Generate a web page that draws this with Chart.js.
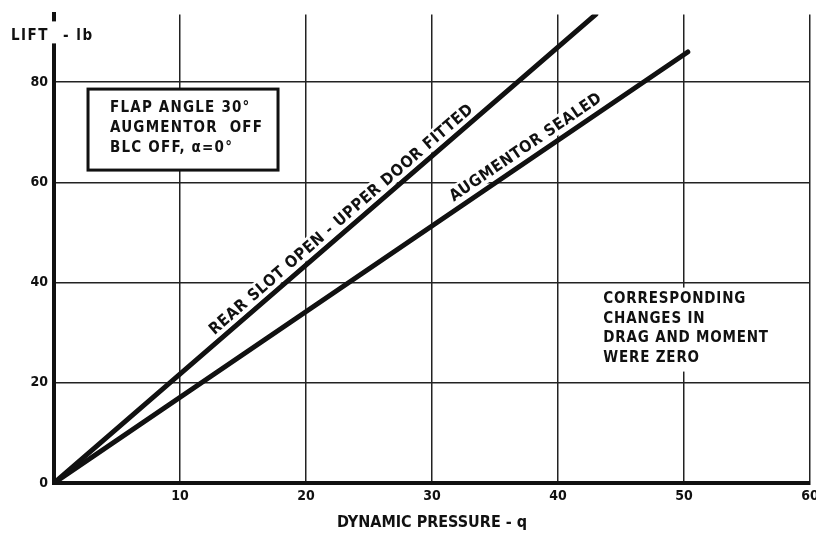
<!DOCTYPE html>
<html>
<head>
<meta charset="utf-8">
<script src="https://cdn.jsdelivr.net/npm/chart.js@4"></script>
<style>
  html, body { margin: 0; padding: 0; background: #fff; }
  #wrap { width: 816px; height: 534px; }
</style>
</head>
<body>
<div id="wrap"><canvas id="liftChart" width="816" height="534"></canvas></div>
<script>
// values (q, lift in lb)
const rearSlotQ = [0, 43];
const rearSlotLift = [0, 93.5];
const sealedQ = [0, 50.3];
const sealedLift = [0, 86];

const xTicks = [0, 10, 20, 30, 40, 50, 60];
const yTicks = [0, 20, 40, 60, 80];
const yTop = 93.5;

const boxLines = ['FLAP ANGLE 30°', 'AUGMENTOR  OFF', 'BLC OFF, α=0°'];
const noteLines = ['CORRESPONDING', 'CHANGES IN', 'DRAG AND MOMENT', 'WERE ZERO'];

const FONT = '"DejaVu Sans Condensed", "Liberation Sans Narrow", "DejaVu Sans", sans-serif';

function toPoints(xs, ys) {
    return xs.map((x, i) => ({ x: x, y: ys[i] }));
}

// text written along a data line, with a white patch behind it
function textAlongLine(chart, dsIndex, text, qAt, offset) {
    const ctx = chart.ctx;
    const pts = chart.getDatasetMeta(dsIndex).data;
    const p0 = pts[0], p1 = pts[pts.length - 1];
    const ang = Math.atan2(p1.y - p0.y, p1.x - p0.x);
    const px = chart.scales.x.getPixelForValue(qAt);
    const t = (px - p0.x) / (p1.x - p0.x);
    const py = p0.y + t * (p1.y - p0.y);
    const cx = px + Math.sin(ang) * offset;
    const cy = py - Math.cos(ang) * offset;

    ctx.save();
    ctx.translate(cx, cy);
    ctx.rotate(ang);
    ctx.font = 'bold 16px ' + FONT;
    ctx.letterSpacing = '0.6px';
    const w = ctx.measureText(text).width;
    ctx.fillStyle = '#fff';
    ctx.fillRect(-w / 2 - 4, -9, w + 8, 18);
    ctx.fillStyle = '#111';
    ctx.textAlign = 'center';
    ctx.textBaseline = 'middle';
    ctx.fillText(text, 0, 1);
    ctx.restore();
}

const notesPlugin = {
    id: 'notes',
    afterDatasetsDraw(chart) {
        const ctx = chart.ctx;
        const xs = chart.scales.x, ys = chart.scales.y;

        // y axis caption, breaking the axis line
        ctx.save();
        ctx.fillStyle = '#fff';
        ctx.fillRect(xs.left - 6, ys.top + 7, 12, 22);
        ctx.fillStyle = '#111';
        ctx.font = 'bold 15px ' + FONT;
        ctx.letterSpacing = '1.5px';
        ctx.textBaseline = 'middle';
        ctx.textAlign = 'right';
        ctx.fillText('LIFT', xs.left - 5, ys.top + 22);
        ctx.textAlign = 'left';
        ctx.fillText('- lb', xs.left + 9, ys.top + 22);
        ctx.restore();

        // boxed conditions
        const bx = xs.getPixelForValue(2.7), by = ys.getPixelForValue(78.6);
        ctx.save();
        ctx.fillStyle = '#fff';
        ctx.fillRect(bx, by, 190, 81);
        ctx.strokeStyle = '#111';
        ctx.lineWidth = 3;
        ctx.strokeRect(bx, by, 190, 81);
        ctx.fillStyle = '#111';
        ctx.font = 'bold 15px ' + FONT;
        ctx.letterSpacing = '1.2px';
        ctx.textBaseline = 'middle';
        boxLines.forEach((s, i) => ctx.fillText(s, bx + 22, by + 19 + i * 20));
        ctx.restore();

        // note at right
        const nx = xs.getPixelForValue(43.6), ny = ys.getPixelForValue(36.6);
        ctx.save();
        ctx.fillStyle = '#fff';
        ctx.fillRect(nx - 5, ny - 12, 175, 84);
        ctx.fillStyle = '#111';
        ctx.font = 'bold 15px ' + FONT;
        ctx.letterSpacing = '0.8px';
        ctx.textBaseline = 'middle';
        noteLines.forEach((s, i) => ctx.fillText(s, nx, ny + i * 19.5));
        ctx.restore();

        textAlongLine(chart, 0, 'REAR SLOT OPEN - UPPER DOOR FITTED', 23.4, 12);
        textAlongLine(chart, 1, 'AUGMENTOR SEALED', 38, 13);
    }
};

const canvas = document.getElementById('liftChart');
new Chart(canvas.getContext('2d'), {
    type: 'scatter',
    data: {
        datasets: [
            {
                label: 'Rear slot open - upper door fitted',
                data: toPoints(rearSlotQ, rearSlotLift),
                showLine: true,
                borderColor: '#111',
                borderWidth: 5,
                borderCapStyle: 'round',
                pointRadius: 0
            },
            {
                label: 'Augmentor sealed',
                data: toPoints(sealedQ, sealedLift),
                showLine: true,
                borderColor: '#111',
                borderWidth: 5,
                borderCapStyle: 'round',
                pointRadius: 0
            }
        ]
    },
    options: {
        responsive: false,
        animation: false,
        layout: { padding: { left: 0, right: 6, top: 13, bottom: 0 } },
        plugins: {
            legend: { display: false },
            tooltip: { enabled: false }
        },
        scales: {
            x: {
                type: 'linear',
                min: xTicks[0],
                max: xTicks[xTicks.length - 1],
                afterBuildTicks: (s) => { s.ticks = xTicks.map(v => ({ value: v })); },
                afterFit: (s) => { s.height = 51; s.paddingLeft = 0; s.paddingRight = 0; },
                grid: { color: '#222', lineWidth: 1.5, drawTicks: false },
                border: { color: '#111', width: 4 },
                ticks: {
                    padding: 5,
                    color: '#111',
                    font: { family: FONT, size: 14, weight: 'bold' },
                    callback: (v) => (v === 0 ? '' : String(v))
                },
                title: {
                    display: true,
                    text: 'DYNAMIC PRESSURE - q',
                    color: '#111',
                    padding: { top: 0, bottom: 2 },
                    font: { family: FONT, size: 16, weight: 'bold' }
                }
            },
            y: {
                type: 'linear',
                min: 0,
                max: yTop,
                afterBuildTicks: (s) => { s.ticks = yTicks.map(v => ({ value: v })); },
                afterFit: (s) => { s.width = 54; },
                grid: { color: '#222', lineWidth: 1.5, drawTicks: false },
                border: { color: '#111', width: 4 },
                ticks: {
                    padding: 6,
                    color: '#111',
                    font: { family: FONT, size: 14, weight: 'bold' }
                }
            }
        }
    },
    plugins: [notesPlugin]
});
</script>
</body>
</html>
